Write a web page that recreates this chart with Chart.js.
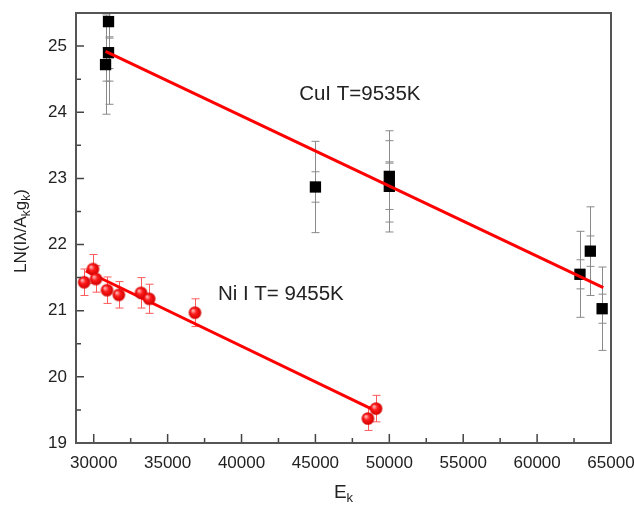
<!DOCTYPE html>
<html>
<head>
<meta charset="utf-8">
<script src="https://cdn.jsdelivr.net/npm/chart.js@4.4.0/dist/chart.umd.min.js"></script>
<style>
  html, body { margin: 0; padding: 0; background: #fff; }
</style>
</head>
<body>
<canvas id="chart" width="634" height="508"></canvas>
<script>
// Cu I 数据点 (E_k, LN, 外/内误差)
const cuEnergy   = [30800, 31000, 31000, 45000, 50000, 50000, 62900, 63600, 64400];
const cuLn       = [24.72, 25.37, 24.90, 22.87, 23.03, 22.88, 21.55, 21.90, 21.03];
const cuErrOuter = [0.75, 0.90, 0.78, 0.69, 0.69, 0.69, 0.65, 0.67, 0.63];
const cuErrInner = [0.25, 0.25, 0.24, 0.23, 0.22, 0.35, 0.22, 0.23, 0.22];

// Ni I 数据点
const niEnergy = [29350, 29950, 30150, 30900, 31700, 33200, 33750, 36850, 48550, 49100];
const niLn     = [21.43, 21.63, 21.48, 21.31, 21.24, 21.27, 21.18, 20.97, 19.37, 19.52];
const niErr    = [0.20, 0.22, 0.20, 0.20, 0.20, 0.23, 0.22, 0.21, 0.18, 0.20];

// 拟合直线端点
const cuFitE  = [30800, 64480];
const cuFitLn = [24.92, 21.35];
const niFitE  = [29460, 48930];
const niFitLn = [21.60, 19.50];

// 刻度
const xMajor = [30000, 35000, 40000, 45000, 50000, 55000, 60000, 65000];
const xMinor = [32500, 37500, 42500, 47500, 52500, 57500, 62500];
const yMajor = [19, 20, 21, 22, 23, 24, 25];
const yMinor = [19.5, 20.5, 21.5, 22.5, 23.5, 24.5];

const FONT = '"Liberation Sans", Arial, sans-serif';

function toPoints(xs, ys) {
    return xs.map((x, i) => ({ x: x, y: ys[i] }));
}

// 红色小球
function makeBall(r) {
    const c = document.createElement('canvas');
    const s = Math.ceil(r * 2 + 2);
    c.width = s;
    c.height = s;
    const g = c.getContext('2d');
    const grad = g.createRadialGradient(s / 2 - r * 0.35, s / 2 - r * 0.35, r * 0.1, s / 2, s / 2, r);
    grad.addColorStop(0, '#ffb4b4');
    grad.addColorStop(0.4, '#ff1a1a');
    grad.addColorStop(1, '#d00000');
    g.fillStyle = grad;
    g.beginPath();
    g.arc(s / 2, s / 2, r, 0, Math.PI * 2);
    g.fill();
    return c;
}

// 误差棒
const errorBarPlugin = {
    id: 'errorBars',
    beforeDatasetsDraw(chart) {
        const ctx = chart.ctx;
        const xs = chart.scales.x, ys = chart.scales.y;
        const area = chart.chartArea;
        ctx.save();
        ctx.beginPath();
        ctx.rect(area.left, area.top, area.right - area.left, area.bottom - area.top);
        ctx.clip();
        chart.data.datasets.forEach(ds => {
            if (!ds.errBars) return;
            ctx.strokeStyle = ds.errColor;
            ctx.lineWidth = 1;
            ds.errBars.forEach(errs => {
                ds.data.forEach((p, i) => {
                    const px = Math.round(xs.getPixelForValue(p.x)) + 0.5;
                    const top = ys.getPixelForValue(p.y + errs[i]);
                    const bot = ys.getPixelForValue(p.y - errs[i]);
                    const w = ds.capWidth;
                    ctx.beginPath();
                    ctx.moveTo(px, top);
                    ctx.lineTo(px, bot);
                    ctx.moveTo(px - w, top);
                    ctx.lineTo(px + w, top);
                    ctx.moveTo(px - w, bot);
                    ctx.lineTo(px + w, bot);
                    ctx.stroke();
                });
            });
        });
        ctx.restore();
    }
};

// 边框、内向刻度、坐标轴标题、注释
const framePlugin = {
    id: 'frame',
    afterDraw(chart) {
        const ctx = chart.ctx;
        const xs = chart.scales.x, ys = chart.scales.y;
        const a = chart.chartArea;
        ctx.save();
        ctx.strokeStyle = '#444';
        ctx.lineWidth = 1.5;
        ctx.beginPath();
        xMajor.forEach(v => {
            const px = xs.getPixelForValue(v);
            ctx.moveTo(px, a.bottom);
            ctx.lineTo(px, a.bottom - 9);
        });
        xMinor.forEach(v => {
            const px = xs.getPixelForValue(v);
            ctx.moveTo(px, a.bottom);
            ctx.lineTo(px, a.bottom - 5);
        });
        yMajor.forEach(v => {
            const py = ys.getPixelForValue(v);
            ctx.moveTo(a.left, py);
            ctx.lineTo(a.left + 8, py);
        });
        yMinor.forEach(v => {
            const py = ys.getPixelForValue(v);
            ctx.moveTo(a.left, py);
            ctx.lineTo(a.left + 5, py);
        });
        ctx.stroke();

        ctx.strokeStyle = '#555';
        ctx.lineWidth = 2;
        ctx.strokeRect(a.left, a.top, a.right - a.left, a.bottom - a.top);

        // 注释文字
        ctx.fillStyle = '#222';
        ctx.font = '20.5px ' + FONT;
        ctx.textBaseline = 'alphabetic';
        ctx.textAlign = 'left';
        ctx.fillText('CuI T=9535K', xs.getPixelForValue(43900), ys.getPixelForValue(24.18));
        ctx.fillText('Ni I T= 9455K', xs.getPixelForValue(38400), ys.getPixelForValue(21.16));

        // x 轴标题 E_k
        const bigX = '19px ' + FONT, smallX = '13px ' + FONT;
        ctx.font = bigX;
        const wE = ctx.measureText('E').width;
        ctx.font = smallX;
        const wk = ctx.measureText('k').width;
        let x0 = (a.left + a.right) / 2 - (wE + wk) / 2;
        const yb = 498;
        ctx.font = bigX;
        ctx.fillText('E', x0, yb);
        ctx.font = smallX;
        ctx.fillText('k', x0 + wE, yb + 4);

        // y 轴标题 LN(Iλ/A_k g_k)
        const parts = [['LN(I\u03bb/A', false], ['k', true], ['g', false], ['k', true], [')', false]];
        const big = '17px ' + FONT, small = '12px ' + FONT;
        let total = 0;
        parts.forEach(p => {
            ctx.font = p[1] ? small : big;
            total += ctx.measureText(p[0]).width;
        });
        ctx.translate(26, 231);
        ctx.rotate(-Math.PI / 2);
        let cx = -total / 2;
        parts.forEach(p => {
            ctx.font = p[1] ? small : big;
            ctx.fillText(p[0], cx, p[1] ? 4 : 0);
            cx += ctx.measureText(p[0]).width;
        });
        ctx.restore();
    }
};

const ball = makeBall(6.3);

new Chart(document.getElementById('chart'), {
    type: 'scatter',
    data: {
        datasets: [
            {
                type: 'line',
                data: toPoints(cuFitE, cuFitLn),
                borderColor: '#ff0000',
                borderWidth: 3,
                pointRadius: 0,
                fill: false
            },
            {
                data: toPoints(niEnergy, niLn),
                pointStyle: ball,
                pointRadius: 6,
                errBars: [niErr],
                errColor: '#ff5a5a',
                capWidth: 4
            },
            {
                type: 'line',
                data: toPoints(niFitE, niFitLn),
                borderColor: '#ff0000',
                borderWidth: 3,
                pointRadius: 0,
                fill: false
            },
            {
                data: toPoints(cuEnergy, cuLn),
                pointStyle: 'rect',
                pointRadius: 8,
                backgroundColor: '#000',
                borderColor: '#000',
                borderWidth: 0,
                errBars: [cuErrOuter, cuErrInner],
                errColor: '#8a8a8a',
                capWidth: 4
            }
        ]
    },
    options: {
        responsive: false,
        animation: false,
        layout: { padding: { top: 13, right: 23, left: 0, bottom: 0 } },
        plugins: {
            legend: { display: false },
            tooltip: { enabled: false }
        },
        scales: {
            x: {
                type: 'linear',
                min: 28800,
                max: 65000,
                grid: { display: false, drawTicks: false },
                border: { display: false },
                afterBuildTicks: scale => { scale.ticks = xMajor.map(v => ({ value: v })); },
                afterFit: scale => {
                    scale.height = 65;
                    scale.paddingLeft = 0;
                    scale.paddingRight = 0;
                },
                ticks: {
                    padding: 10,
                    maxRotation: 0,
                    color: '#222',
                    font: { family: FONT, size: 17 },
                    callback: v => String(v)
                }
            },
            y: {
                type: 'linear',
                min: 19,
                max: 25.5,
                grid: { display: false, drawTicks: false },
                border: { display: false },
                afterBuildTicks: scale => { scale.ticks = yMajor.map(v => ({ value: v })); },
                afterFit: scale => {
                    scale.width = 76;
                    scale.paddingTop = 0;
                    scale.paddingBottom = 0;
                },
                ticks: {
                    padding: 9,
                    color: '#222',
                    font: { family: FONT, size: 17 },
                    callback: v => String(v)
                }
            }
        }
    },
    plugins: [errorBarPlugin, framePlugin]
});
</script>
</body>
</html>
